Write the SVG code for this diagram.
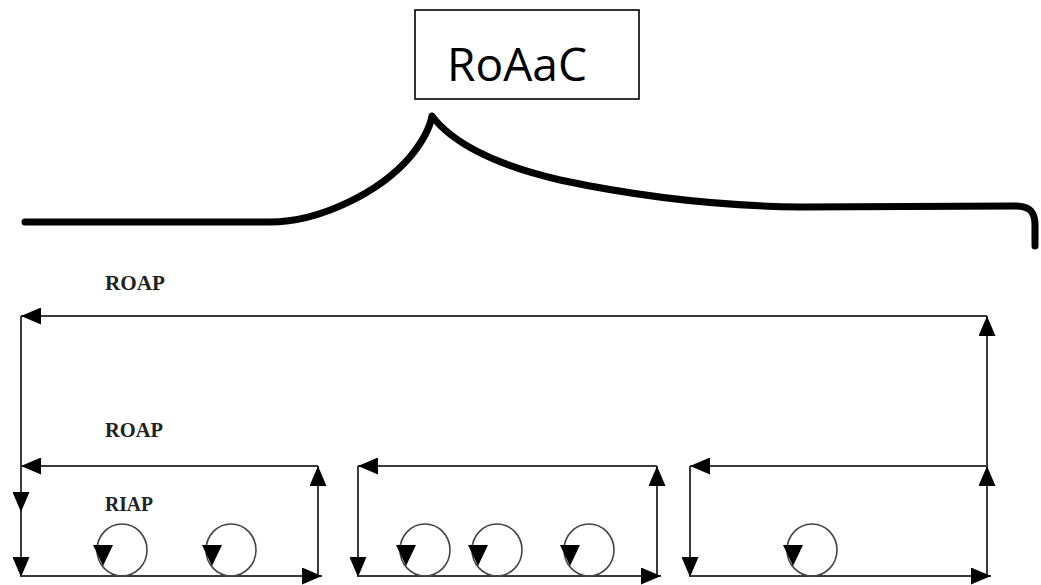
<svg xmlns="http://www.w3.org/2000/svg" width="1041" height="585" viewBox="0 0 1041 585">
<style>
.ln{stroke:#3a3a3a;stroke-width:2;fill:none}
.la{stroke:#3a3a3a;stroke-width:2;fill:none;marker-end:url(#ah)}
.cir{stroke:#444;stroke-width:1.6;fill:none}
.head{fill:#000}
.lbl{font-family:"Liberation Serif","Times New Roman",serif;font-weight:bold;font-size:21px;fill:#222}
.title{font-family:"Open Sans","Liberation Sans",sans-serif;font-size:45px;fill:#000}
</style>
<defs>
<marker id="ah" markerWidth="20" markerHeight="17" refX="20" refY="8.5" orient="auto" markerUnits="userSpaceOnUse">
<path d="M0,0 L20,8.5 L0,17 Z" fill="#000"/>
</marker>
</defs>
<rect width="1041" height="585" fill="#fff"/>
<g id="node-roaac">
<rect x="415" y="10" width="224" height="89" fill="#fff" stroke="#000" stroke-width="1.6"/>
<text class="title" x="517" y="81" text-anchor="middle" textLength="140" lengthAdjust="spacingAndGlyphs">RoAaC</text>
</g>
<g id="brace">
<path d="M25,222 L270,222 C320,222 380,192 410,157 C424,140 430,127 432,116 C450,140 490,164 560,180 C640,197 720,206 800,207 L1015,206 C1030,206 1035,212 1035,225 L1035,246" fill="none" stroke="#000" stroke-width="7" stroke-linecap="round" stroke-linejoin="round"/>
</g>
<g id="labels">
<text class="lbl" x="105" y="290" textLength="60" lengthAdjust="spacingAndGlyphs">ROAP</text>
<text class="lbl" x="105" y="437" textLength="58" lengthAdjust="spacingAndGlyphs">ROAP</text>
<text class="lbl" x="105" y="511" textLength="48" lengthAdjust="spacingAndGlyphs">RIAP</text>
</g>
<g id="connectors">
<line class="la" x1="987" y1="316" x2="21" y2="316"/>
<line class="la" x1="987" y1="576" x2="987" y2="466"/>
<line class="la" x1="987" y1="466" x2="987" y2="316"/>
<line class="la" x1="21" y1="316" x2="21" y2="512"/>
<line class="la" x1="21" y1="512" x2="21" y2="577"/>
<line class="la" x1="318" y1="466" x2="21" y2="466"/>
<line class="la" x1="318" y1="576" x2="318" y2="466"/>
<line class="la" x1="21" y1="576" x2="322" y2="576"/>
<line class="la" x1="657" y1="466" x2="358" y2="466"/>
<line class="la" x1="358" y1="466" x2="358" y2="577"/>
<line class="la" x1="657" y1="576" x2="657" y2="466"/>
<line class="la" x1="358" y1="576" x2="661" y2="576"/>
<line class="la" x1="987" y1="466" x2="690" y2="466"/>
<line class="la" x1="690" y1="466" x2="690" y2="577"/>
<line class="la" x1="690" y1="576" x2="991" y2="576"/>
</g>
<g id="loops">
<g id="loop1"><ellipse class="cir" cx="122" cy="550" rx="25" ry="26"/><path class="head" d="M93,545 L113,545 L103,566 Z"/></g>
<g id="loop2"><ellipse class="cir" cx="231" cy="550" rx="25" ry="26"/><path class="head" d="M202,545 L222,545 L212,566 Z"/></g>
<g id="loop3"><ellipse class="cir" cx="425" cy="550" rx="25" ry="26"/><path class="head" d="M396,545 L416,545 L406,566 Z"/></g>
<g id="loop4"><ellipse class="cir" cx="497" cy="550" rx="25" ry="26"/><path class="head" d="M468,545 L488,545 L478,566 Z"/></g>
<g id="loop5"><ellipse class="cir" cx="589" cy="550" rx="25" ry="26"/><path class="head" d="M560,545 L580,545 L570,566 Z"/></g>
<g id="loop6"><ellipse class="cir" cx="812" cy="550" rx="25" ry="26"/><path class="head" d="M783,545 L803,545 L793,566 Z"/></g>
</g>
</svg>
